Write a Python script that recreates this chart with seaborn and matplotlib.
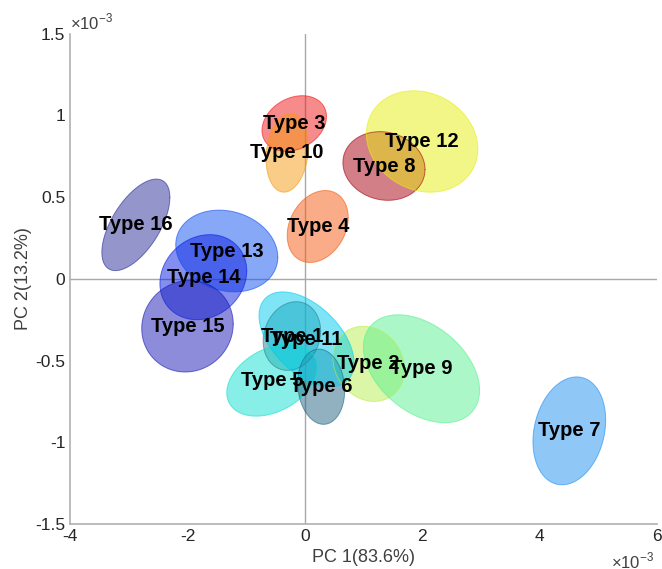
import numpy as np
import pandas as pd
import matplotlib
matplotlib.use('Agg')
import matplotlib.pyplot as plt
import seaborn as sns

# PCA scores, in units of 1e-3 (centre, x / y spread, correlation)
types = ['Type 1', 'Type 2', 'Type 3', 'Type 4', 'Type 5', 'Type 6', 'Type 7', 'Type 8',
         'Type 9', 'Type 10', 'Type 11', 'Type 12', 'Type 13', 'Type 14', 'Type 15', 'Type 16']
pc1 = [-0.22, 1.09, -0.18, 0.22, -0.56, 0.28, 4.51, 1.35,
       1.99, -0.30, 0.03, 2.00, -1.33, -1.73, -2.00, -2.88]
pc2 = [-0.35, -0.52, 0.95, 0.32, -0.62, -0.66, -0.93, 0.69,
       -0.55, 0.77, -0.37, 0.84, 0.17, 0.01, -0.29, 0.33]
sd1 = [0.49, 0.61, 0.55, 0.52, 0.77, 0.40, 0.62, 0.70,
       0.99, 0.36, 0.81, 0.95, 0.87, 0.74, 0.78, 0.58]
sd2 = [0.21, 0.23, 0.17, 0.22, 0.22, 0.23, 0.33, 0.21,
       0.33, 0.24, 0.29, 0.31, 0.25, 0.26, 0.28, 0.28]
rho = [0.15, -0.15, 0.25, 0.25, 0.35, -0.1, 0.2, -0.1,
       -0.4, 0.15, -0.5, -0.15, -0.15, 0.15, 0.05, 0.6]
colors = ['#2f7f8c', '#b8ee50', '#f01818', '#f55a10', '#10e0d0', '#256585', '#2090f0', '#a80010',
          '#5af090', '#f59a10', '#00ccee', '#e6ee10', '#1050f0', '#0a1ee0', '#1a1ab8', '#2a2d96']

xticks = [-4, -2, 0, 2, 4, 6]
yticks = [-1.5, -1, -0.5, 0, 0.5, 1, 1.5]
xticklabels = ['-4', '-2', '0', '2', '4', '6']
yticklabels = ['-1.5', '-1', '-0.5', '0', '0.5', '1', '1.5']

sns.set_style('white')
plt.rcParams['font.family'] = ['Liberation Sans', 'DejaVu Sans']
plt.rcParams['mathtext.fontset'] = 'custom'
plt.rcParams['mathtext.rm'] = 'Liberation Sans'

# ellipse outlines from each group's covariance
t = np.linspace(0, 2 * np.pi, 200)
rows = []
for i, name in enumerate(types):
    cov = np.array([[sd1[i] ** 2, rho[i] * sd1[i] * sd2[i]],
                    [rho[i] * sd1[i] * sd2[i], sd2[i] ** 2]])
    L = np.linalg.cholesky(cov)
    pts = L @ np.vstack([np.cos(t), np.sin(t)])
    for x, y in zip(pts[0], pts[1]):
        rows.append({'type': name, 'x': pc1[i] + x, 'y': pc2[i] + y})
df = pd.DataFrame(rows)

fig = plt.figure(figsize=(6.62, 5.69), dpi=100)
ax = fig.add_axes([0.106, 0.079, 0.886, 0.862])

ax.axhline(0, color='#a8a8a8', lw=1, zorder=0)
ax.axvline(0, color='#a8a8a8', lw=1, zorder=0)

for i, name in enumerate(types):
    d = df[df['type'] == name]
    ax.fill(d['x'], d['y'], color=colors[i], alpha=0.5, lw=0, zorder=2)

sns.lineplot(data=df, x='x', y='y', hue='type', palette=colors, sort=False,
             estimator=None, legend=False, lw=0.7, alpha=0.6, ax=ax, zorder=3)

for i, name in enumerate(types):
    ax.text(pc1[i], pc2[i], name, ha='center', va='center',
            fontsize=14.5, fontweight='bold', color='black', zorder=5)

ax.set_xlim(-4, 6)
ax.set_ylim(-1.5, 1.5)
ax.set_xticks(xticks)
ax.set_xticklabels(xticklabels)
ax.set_yticks(yticks)
ax.set_yticklabels(yticklabels)
ax.tick_params(direction='in', length=4, color='#b0b0b0', labelsize=12.5, labelcolor='#262626')

ax.text(0.0, 1.003, r'$\times$10$^{-3}$', transform=ax.transAxes, ha='left', va='bottom',
        fontsize=12, color='#404040')
ax.text(0.995, -0.055, r'$\times$10$^{-3}$', transform=ax.transAxes, ha='right', va='top',
        fontsize=12, color='#404040')

sns.despine(ax=ax)
for s in ['left', 'bottom']:
    ax.spines[s].set_color('#b0b0b0')
    ax.spines[s].set_linewidth(1.2)

ax.set_xlabel('PC 1(83.6%)', fontsize=13, color='#404040', labelpad=4)
ax.set_ylabel('PC 2(13.2%)', fontsize=13, color='#404040', labelpad=2)

plt.savefig('out.png', dpi=100)
